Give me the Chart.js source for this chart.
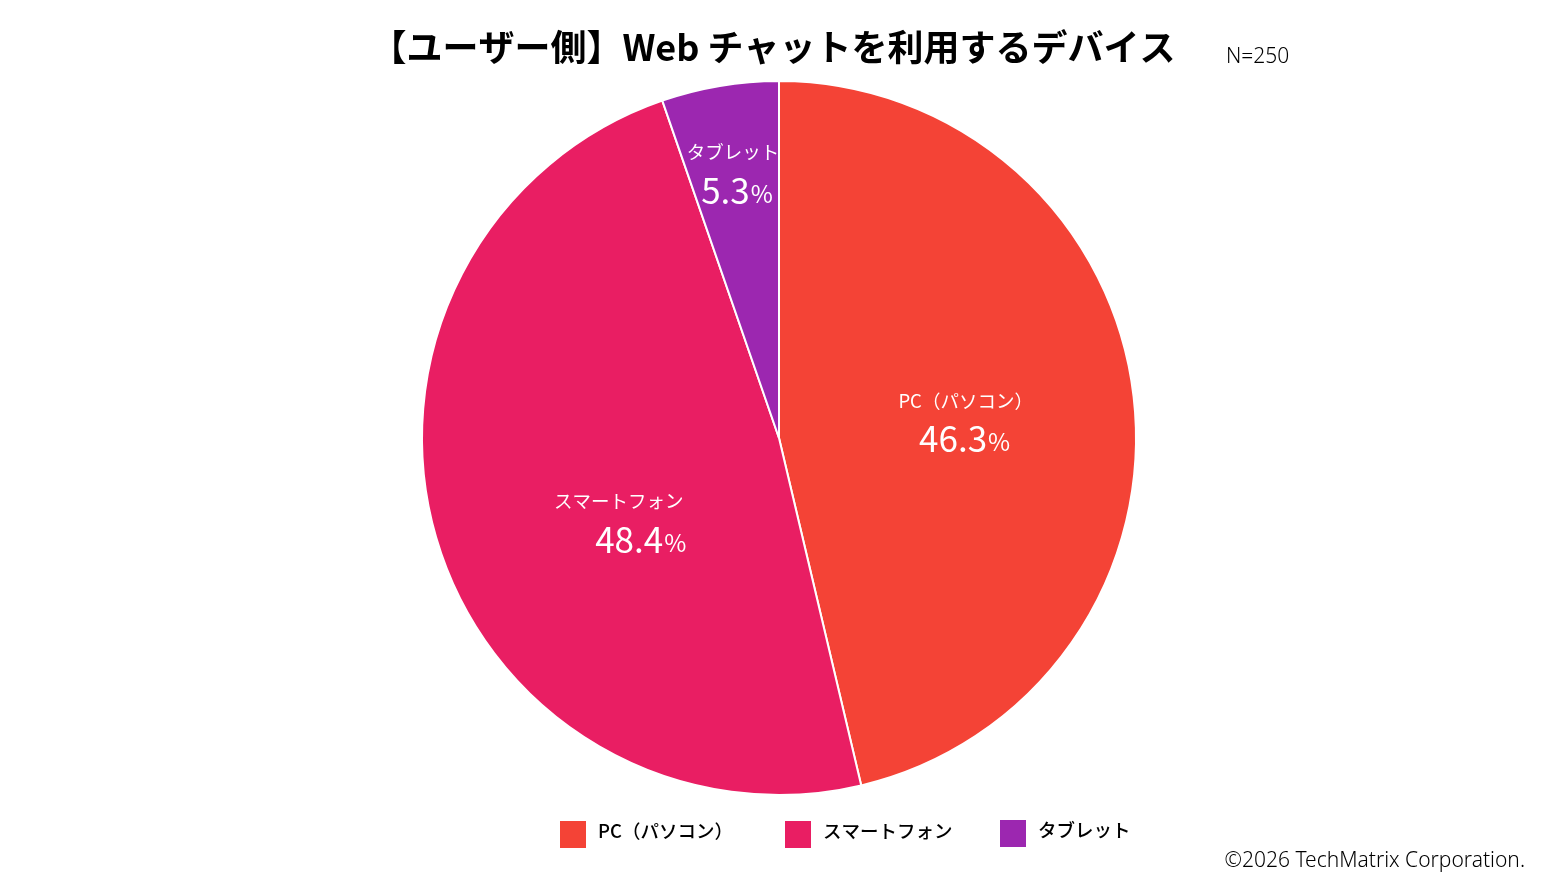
<!DOCTYPE html>
<html lang="ja">
<head>
<meta charset="utf-8">
<script src="https://cdn.jsdelivr.net/npm/chart.js@4.4.1/dist/chart.umd.min.js"></script>
<style>
    html, body { margin: 0; padding: 0; background: #fff; }
    #wrap { width: 1560px; height: 878px; position: relative; }
</style>
</head>
<body>
<div id="wrap"><canvas id="deviceChart"></canvas></div>
<script>
// データ
const labels = ['PC（パソコン）', 'スマートフォン', 'タブレット'];
const values = [46.3, 48.4, 5.3];
const colors = ['#F44336', '#E91E63', '#9C27B0'];
const titleText = '【ユーザー側】Web チャットを利用するデバイス';
const sampleText = 'N=250';
const creditText = '©2026 TechMatrix Corporation.';

const FONT = '"Noto Sans CJK JP", "Noto Sans", sans-serif';
const THIN = '"Noto Sans", "Noto Sans CJK JP", sans-serif';

// ラベル位置の微調整 [半径比, 角度ずれ(度), 名前の x ずれ, y ずれ]
const labelTweaks = [
    [0.52, 6.5, 1, 2],
    [0.48, -20, -22, 1],
    [0.71, 0, -4, 3],
];
// 凡例の左端
const legendX = [560, 785, 1000];

const overlayPlugin = {
    id: 'overlay',
    afterDraw(chart) {
        const ctx = chart.ctx;
        ctx.save();

        // タイトル
        ctx.fillStyle = '#000';
        ctx.textAlign = 'center';
        ctx.textBaseline = 'middle';
        ctx.font = 'bold 36px ' + FONT;
        ctx.fillText(titleText, 773, 47);

        ctx.font = '300 21px ' + THIN;
        ctx.textAlign = 'left';
        ctx.fillText(sampleText, 1226, 57);

        // スライス内ラベル
        const meta = chart.getDatasetMeta(0);
        meta.data.forEach(function (arc, i) {
            const p = arc.getProps(['x', 'y', 'startAngle', 'endAngle', 'outerRadius'], true);
            const t = labelTweaks[i];
            const mid = (p.startAngle + p.endAngle) / 2 + (t[1] * Math.PI) / 180;
            const cx = p.x + Math.cos(mid) * p.outerRadius * t[0];
            const cy = p.y + Math.sin(mid) * p.outerRadius * t[0] + t[3];

            ctx.fillStyle = '#fff';
            ctx.textAlign = 'center';
            ctx.textBaseline = 'middle';
            ctx.font = '18.5px ' + FONT;
            ctx.fillText(labels[i], cx + t[2], cy - 39);

            const num = values[i].toFixed(1);
            ctx.font = '35px ' + FONT;
            const wNum = ctx.measureText(num).width;
            ctx.font = '24px ' + FONT;
            const wPct = ctx.measureText('%').width;
            const x0 = cx - (wNum + wPct + 1) / 2;
            ctx.textAlign = 'left';
            ctx.textBaseline = 'alphabetic';
            ctx.font = '35px ' + FONT;
            ctx.fillText(num, x0, cy + 13);
            ctx.font = '24px ' + FONT;
            ctx.fillText('%', x0 + wNum + 1, cy + 12);
        });

        // 凡例
        ctx.textBaseline = 'middle';
        ctx.font = '500 18.5px ' + FONT;
        labels.forEach(function (lab, i) {
            const lx = legendX[i];
            const ly = i === 2 ? 820 : 821;
            ctx.fillStyle = colors[i];
            ctx.fillRect(lx, ly, 26, 27);
            ctx.fillStyle = '#000';
            ctx.textAlign = 'left';
            ctx.fillText(lab, lx + 38, ly + 10);
        });

        // クレジット
        ctx.textAlign = 'right';
        ctx.font = '300 21px ' + THIN;
        ctx.fillText(creditText, 1525, 861);

        ctx.restore();
    },
};

new Chart(document.getElementById('deviceChart'), {
    type: 'pie',
    data: {
        labels: labels,
        datasets: [
            {
                data: values,
                backgroundColor: colors,
                borderColor: '#fff',
                borderWidth: 2,
            },
        ],
    },
    options: {
        responsive: true,
        maintainAspectRatio: false,
        animation: false,
        layout: {
            padding: { top: 80, bottom: 82, left: 0, right: 2 },
        },
        plugins: {
            legend: { display: false },
            title: { display: false },
            tooltip: { enabled: false },
        },
    },
    plugins: [overlayPlugin],
});
</script>
</body>
</html>
